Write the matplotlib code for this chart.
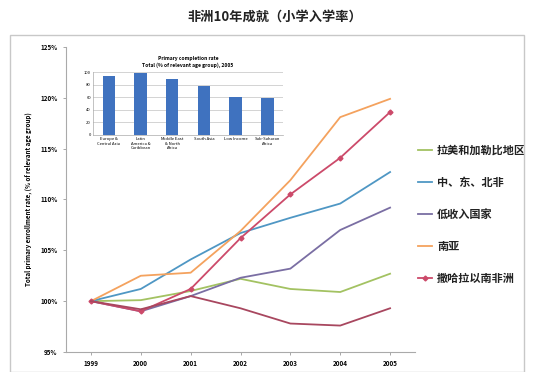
import matplotlib
matplotlib.use("Agg")
import matplotlib.pyplot as plt
from matplotlib.patches import Rectangle

plt.rcParams['font.family'] = ['Noto Sans CJK SC', 'DejaVu Sans']

# main chart data (ratio to 1999)
years = ['1999', '2000', '2001', '2002', '2003', '2004', '2005']
latam = [1.000, 1.001, 1.010, 1.022, 1.012, 1.009, 1.027]
mena = [1.000, 1.012, 1.041, 1.067, 1.082, 1.096, 1.127]
low_income = [1.000, 0.990, 1.005, 1.023, 1.032, 1.070, 1.092]
south_asia = [1.000, 1.025, 1.028, 1.069, 1.119, 1.181, 1.199]
ssa = [1.000, 0.990, 1.012, 1.062, 1.105, 1.141, 1.186]
unlabeled = [1.000, 0.992, 1.005, 0.993, 0.978, 0.976, 0.993]

series_names = ['拉美和加勒比地区', '中、东、北非', '低收入国家', '南亚', '撒哈拉以南非洲']
y_ticks = [0.95, 1.00, 1.05, 1.10, 1.15, 1.20, 1.25]
y_tick_labels = ['95%', '100%', '105%', '110%', '115%', '120%', '125%']

# inset bar data
bar_regions = ['Europe &\nCentral Asia', 'Latin\nAmerica &\nCaribbean', 'Middle East\n& North\nAfrica',
               'South Asia', 'Low Income', 'Sub-Saharan\nAfrica']
completion = [94, 99, 89, 78, 60, 58]

W, H = 536, 372
fig = plt.figure(figsize=(W / 100, H / 100), dpi=100)

def box(x0, y0, x1, y1):
    return [x0 / W, 1 - y1 / H, (x1 - x0) / W, (y1 - y0) / H]

# outer frame
fig.patches.append(Rectangle((10 / W, 0), 514 / W, 1 - 35 / H, transform=fig.transFigure,
                             fill=False, edgecolor='#c8c8c8', linewidth=1.0))

fig.text(275 / W, 1 - 17 / H, '非洲10年成就（小学入学率）', ha='center', va='center',
         fontsize=9.5, fontweight='bold', color='#222222')

ax = fig.add_axes(box(66, 47, 415, 352))
x = list(range(len(years)))
ax.plot(x, latam, color='#a3c262', lw=1.3, label=series_names[0])
ax.plot(x, mena, color='#4f97c4', lw=1.3, label=series_names[1])
ax.plot(x, low_income, color='#7a6ea3', lw=1.3, label=series_names[2])
ax.plot(x, south_asia, color='#f4a25e', lw=1.3, label=series_names[3])
ax.plot(x, ssa, color='#cc4a6a', lw=1.3, marker='D', markersize=2.5, label=series_names[4])
ax.plot(x, unlabeled, color='#a8475f', lw=1.3)

ax.set_xlim(-0.5, 6.5)
ax.set_ylim(0.95, 1.25)
ax.set_xticks(x)
ax.set_xticklabels(years, fontsize=4.5, fontweight='bold')
ax.set_yticks(y_ticks)
ax.set_yticklabels(y_tick_labels, fontsize=4.5, fontweight='bold')
ax.tick_params(length=2, width=0.6, color='#999999', pad=4)
for s in ['top', 'right']:
    ax.spines[s].set_visible(False)
for s in ['left', 'bottom']:
    ax.spines[s].set_color('#aaaaaa')
    ax.spines[s].set_linewidth(0.8)
ax.set_ylabel('Total primary enrollment rate, (% of relevant age group)', fontsize=4.5,
              fontweight='bold', labelpad=6)

leg = ax.legend(loc='upper left', bbox_to_anchor=(408 / W, 1 - 134 / H),
                bbox_transform=fig.transFigure, frameon=False, fontsize=8,
                labelspacing=1.7, handlelength=1.3, handletextpad=0.4)
for t in leg.get_texts():
    t.set_fontweight('bold')
    t.set_color('#222222')

# inset bar chart
ins = fig.add_axes(box(93, 72, 283, 135))
ins.bar(range(len(bar_regions)), completion, width=0.4, color='#3f72bf', zorder=2)
ins.set_ylim(0, 100)
ins.set_yticks([0, 20, 40, 60, 80, 100])
ins.set_yticklabels(['0', '20', '40', '60', '80', '100'], fontsize=3)
ins.set_xticks(range(len(bar_regions)))
ins.set_xticklabels(bar_regions, fontsize=3)
ins.set_xlim(-0.5, 5.5)
ins.grid(axis='y', color='#cccccc', lw=0.6, zorder=0)
ins.tick_params(length=0, pad=1.5)
for s in ['top', 'right']:
    ins.spines[s].set_visible(False)
ins.spines['left'].set_color('#aaaaaa')
ins.spines['bottom'].set_color('#aaaaaa')
ins.spines['left'].set_linewidth(0.5)
ins.spines['bottom'].set_linewidth(0.5)
ins.set_title('Primary completion rate\nTotal (% of relevant age group), 2005', fontsize=3.6,
              fontweight='bold', pad=4, linespacing=1.3)

fig.savefig('out.png', dpi=100)
